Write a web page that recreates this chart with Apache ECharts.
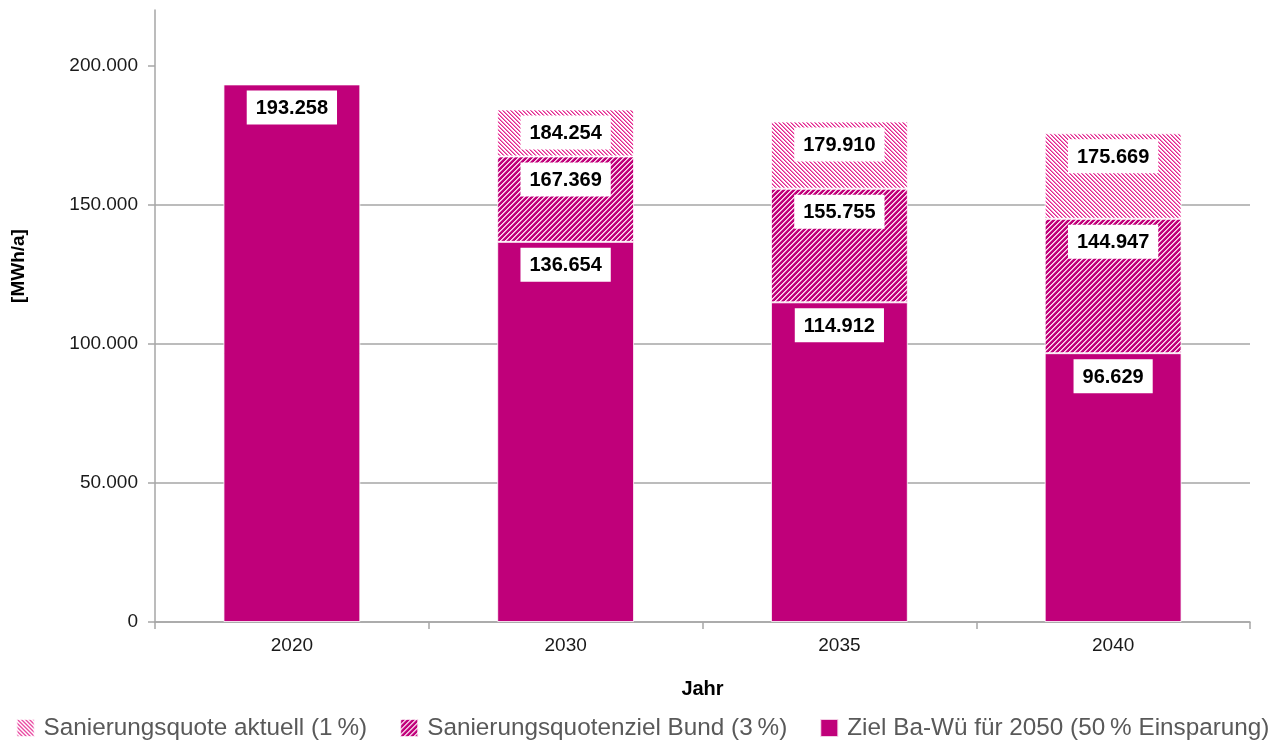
<!DOCTYPE html>
<html>
<head>
<meta charset="utf-8">
<script src="https://cdn.jsdelivr.net/npm/echarts@6/dist/echarts.min.js"></script>
<style>
html,body{margin:0;padding:0;background:#fff;}
#chart{width:1285px;height:743px;}
</style>
</head>
<body>
<div id="chart"></div>
<script>
// ---- data ----
const categories = ['2020', '2030', '2035', '2040'];
// cumulative totals shown in the labels
const zielBaWue = [193258, 136654, 114912, 96629];     // Ziel Ba-Wü für 2050 (50 % Einsparung)
const bundTotal = [null, 167369, 155755, 144947];      // Sanierungsquotenziel Bund (3 %)
const aktuellTotal = [null, 184254, 179910, 175669];   // Sanierungsquote aktuell (1 %)
const yTicks = [0, 50000, 100000, 150000, 200000];
const seriesNames = [
  'Sanierungsquote aktuell (1\u202F%)',
  'Sanierungsquotenziel Bund (3\u202F%)',
  'Ziel Ba-Wü für 2050 (50\u202F% Einsparung)'
];
const yName = '[MWh/a]';
const xName = 'Jahr';

// stacked segment sizes derived from the totals
const bundSeg = bundTotal.map((v, i) => v == null ? null : v - zielBaWue[i]);
const aktuellSeg = aktuellTotal.map((v, i) => v == null ? null : v - bundTotal[i]);

function fmt(n) {
  return String(n).replace(/\B(?=(\d{3})+(?!\d))/g, '.');
}

function makeTile(n, bg, stripes, dir) {
  const c = document.createElement('canvas');
  c.width = n; c.height = n;
  const ctx = c.getContext('2d');
  ctx.fillStyle = bg;
  ctx.fillRect(0, 0, n, n);
  for (let x = 0; x < n; x++) {
    for (let y = 0; y < n; y++) {
      const k = dir > 0 ? (x + y) % n : (((x - y) % n) + n) % n;
      if (stripes[k]) {
        ctx.fillStyle = stripes[k];
        ctx.fillRect(x, y, 1, 1);
      }
    }
  }
  return c;
}

const MAGENTA = '#C0007A';
const bundPattern = { image: makeTile(5, MAGENTA, { 0: '#FBE2F0', 1: '#ECA2D0' }, 1), repeat: 'repeat' };
const aktuellPattern = { image: makeTile(4, '#FFFFFF', { 0: '#E2268F', 1: '#F27CBC' }, -1), repeat: 'repeat' };

const baseFont = "'Liberation Sans', Arial, sans-serif";

function makeLabel(totals) {
  return {
    show: true,
    position: 'insideTop',
    distance: 6,
    backgroundColor: '#FFFFFF',
    padding: [8, 9, 6, 9],
    color: '#000000',
    fontFamily: baseFont,
    fontWeight: 'bold',
    fontSize: 20,
    formatter: p => (totals[p.dataIndex] == null ? '' : fmt(totals[p.dataIndex]))
  };
}

const chart = echarts.init(document.getElementById('chart'), null, { renderer: 'canvas' });

const option = {
  animation: false,
  textStyle: { fontFamily: baseFont },
  grid: { left: 155, right: 35, top: 10, bottom: 121, containLabel: false },
  legend: {
    data: seriesNames,
    left: 'center',
    top: 696,
    padding: [20, 10, 10, 10],
    backgroundColor: '#FFFFFF',
    icon: 'rect',
    itemWidth: 18,
    itemHeight: 18,
    itemGap: 32,
    textStyle: { fontSize: 24.3, color: '#595959', fontFamily: baseFont, padding: [0, 0, 0, 4] }
  },
  xAxis: {
    type: 'category',
    data: categories,
    name: xName,
    nameLocation: 'middle',
    nameGap: 57,
    nameTextStyle: { fontSize: 20, fontWeight: 'bold', color: '#000' },
    axisLine: { lineStyle: { color: '#A6A6A6', width: 1.5 } },
    axisTick: { show: true, length: 7, lineStyle: { color: '#A6A6A6', width: 1.5 } },
    axisLabel: { fontSize: 19, color: '#1A1A1A', margin: 14 }
  },
  yAxis: {
    type: 'value',
    min: 0,
    max: 220000,
    interval: 50000,
    axisLine: { show: true, lineStyle: { color: '#A6A6A6', width: 1.5 } },
    axisTick: { show: true, length: 7, customValues: yTicks, lineStyle: { color: '#A6A6A6', width: 1.5 } },
    axisLabel: { fontSize: 19, color: '#1A1A1A', margin: 17, customValues: yTicks, formatter: v => fmt(v) },
    splitLine: { show: true, showMaxLine: false, lineStyle: { color: '#A6A6A6', width: 1.5 } }
  },
  graphic: [{
    type: 'text',
    x: 19,
    y: 266,
    rotation: Math.PI / 2,
    style: {
      text: yName,
      fontSize: 19,
      fontWeight: 'bold',
      fill: '#000',
      fontFamily: baseFont,
      align: 'center',
      verticalAlign: 'middle'
    }
  }],
  series: [
    {
      name: seriesNames[2],
      type: 'bar',
      stack: 'total',
      barWidth: '50%',
      data: zielBaWue,
      itemStyle: { color: MAGENTA, borderColor: 'rgba(255,255,255,0.8)', borderWidth: 1 },
      label: makeLabel(zielBaWue)
    },
    {
      name: seriesNames[1],
      type: 'bar',
      stack: 'total',
      barWidth: '50%',
      data: bundSeg,
      itemStyle: { color: bundPattern, borderColor: 'rgba(255,255,255,0.8)', borderWidth: 1 },
      label: makeLabel(bundTotal)
    },
    {
      name: seriesNames[0],
      type: 'bar',
      stack: 'total',
      barWidth: '50%',
      data: aktuellSeg,
      itemStyle: { color: aktuellPattern, borderColor: 'rgba(255,255,255,0.8)', borderWidth: 1 },
      label: makeLabel(aktuellTotal)
    }
  ]
};

chart.setOption(option);
</script>
</body>
</html>
